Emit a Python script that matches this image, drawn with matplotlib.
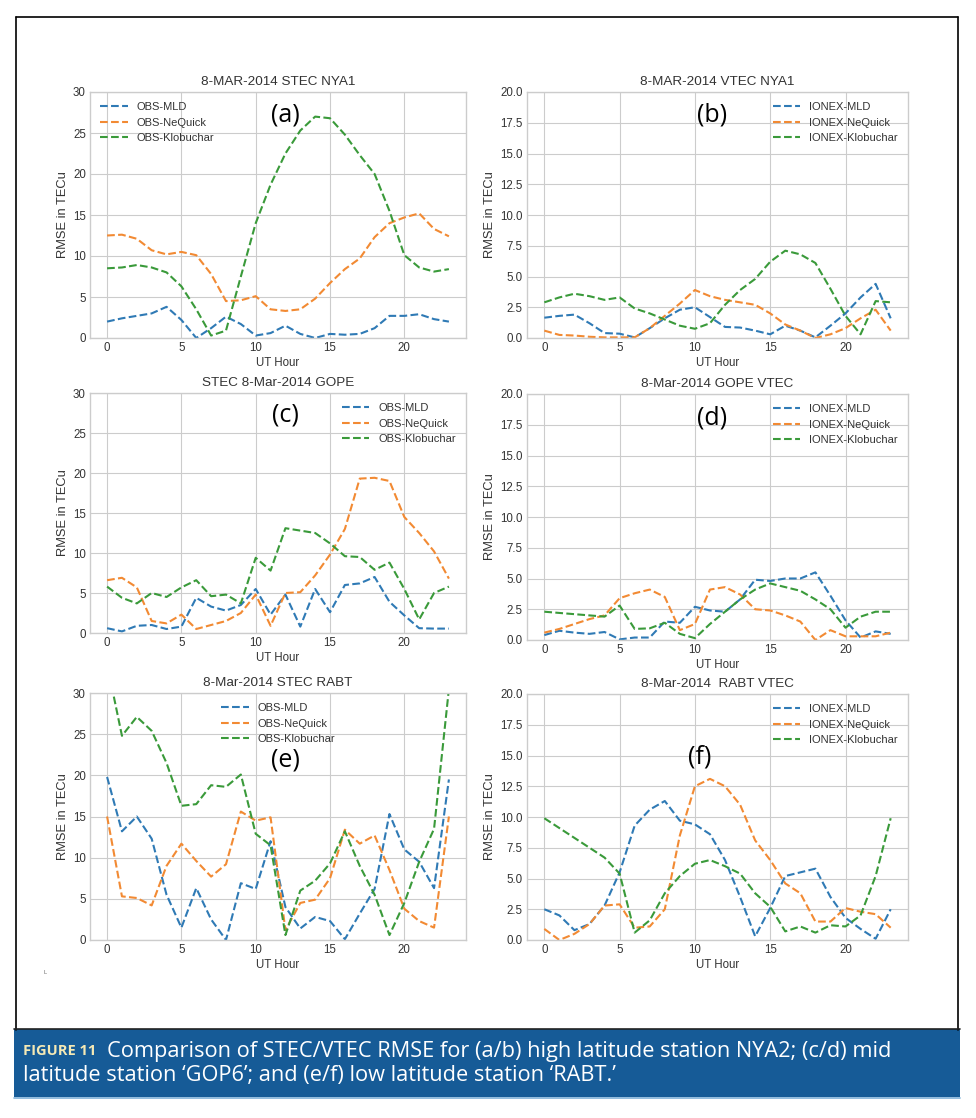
import matplotlib.pyplot as plt
from matplotlib.patches import Rectangle
from matplotlib.lines import Line2D

plt.style.use('seaborn-v0_8-whitegrid')

hours = list(range(24))

# (a) 8-MAR-2014 STEC NYA1
a_mld = [2.0, 2.4, 2.7, 3.0, 3.8, 2.2, 0.0, 1.2, 2.6, 1.7, 0.3, 0.6,
         1.5, 0.5, 0.0, 0.5, 0.4, 0.5, 1.2, 2.7, 2.7, 2.9, 2.3, 2.0]
a_neq = [12.5, 12.6, 12.1, 10.7, 10.2, 10.5, 10.1, 7.8, 4.5, 4.6, 5.1, 3.5,
         3.3, 3.5, 4.8, 6.7, 8.4, 9.7, 12.3, 14.0, 14.7, 15.2, 13.3, 12.4]
a_klo = [8.5, 8.6, 8.9, 8.6, 8.0, 6.3, 3.5, 0.3, 0.9, 7.5, 14.0, 18.7,
         22.5, 25.3, 27.0, 26.8, 24.8, 22.3, 20.0, 15.5, 10.1, 8.6, 8.1, 8.4]

# (b) 8-MAR-2014 VTEC NYA1
b_mld = [1.65, 1.8, 1.9, 1.2, 0.4, 0.35, 0.05, 0.8, 1.6, 2.3, 2.5, 1.7,
         0.9, 0.85, 0.6, 0.3, 1.0, 0.6, 0.05, 1.0, 2.0, 3.3, 4.4, 1.6]
b_neq = [0.6, 0.25, 0.2, 0.1, 0.05, 0.05, 0.05, 0.8, 1.8, 2.8, 3.9, 3.4,
         3.1, 2.9, 2.7, 2.0, 1.1, 0.6, 0.0, 0.3, 0.8, 1.6, 2.3, 0.6]
b_klo = [2.9, 3.3, 3.6, 3.4, 3.1, 3.3, 2.4, 2.0, 1.5, 1.0, 0.75, 1.2,
         2.7, 3.9, 4.8, 6.2, 7.1, 6.8, 6.1, 4.0, 1.8, 0.3, 3.0, 2.9]

# (c) STEC 8-Mar-2014 GOPE
c_mld = [0.6, 0.2, 0.9, 1.0, 0.5, 0.8, 4.4, 3.3, 2.8, 3.5, 5.5, 2.3,
         4.8, 0.8, 5.5, 2.6, 6.0, 6.2, 7.0, 3.9, 2.2, 0.6, 0.55, 0.55]
c_neq = [6.6, 6.9, 5.7, 1.5, 1.2, 2.3, 0.5, 1.0, 1.5, 2.5, 4.8, 0.9,
         5.0, 5.1, 7.2, 9.8, 13.0, 19.3, 19.4, 19.0, 14.5, 12.5, 10.2, 6.8]
c_klo = [5.8, 4.4, 3.7, 5.0, 4.5, 5.7, 6.6, 4.6, 4.8, 3.7, 9.4, 7.8,
         13.1, 12.8, 12.5, 11.2, 9.6, 9.5, 7.9, 8.8, 5.5, 1.7, 5.0, 5.8]

# (d) 8-Mar-2014 GOPE VTEC
d_mld = [0.4, 0.75, 0.6, 0.5, 0.65, 0.05, 0.2, 0.2, 1.5, 1.4, 2.7, 2.4,
         2.3, 3.3, 4.9, 4.8, 5.0, 5.0, 5.5, 3.6, 1.6, 0.2, 0.7, 0.5]
d_neq = [0.6, 0.9, 1.3, 1.7, 2.0, 3.4, 3.8, 4.1, 3.5, 0.8, 1.3, 4.1,
         4.3, 3.7, 2.5, 2.4, 2.0, 1.5, 0.0, 0.8, 0.3, 0.3, 0.3, 0.6]
d_klo = [2.3, 2.2, 2.1, 2.0, 1.9, 2.8, 0.9, 0.95, 1.4, 0.5, 0.15, 1.3,
         2.3, 3.3, 4.1, 4.6, 4.3, 4.0, 3.3, 2.5, 1.0, 1.9, 2.3, 2.3]

# (e) 8-Mar-2014 STEC RABT
e_mld = [19.8, 13.2, 15.0, 12.3, 5.5, 1.5, 6.3, 2.5, 0.0, 6.9, 6.2, 12.0,
         4.0, 1.4, 2.8, 2.3, 0.1, 3.2, 6.2, 15.3, 11.0, 9.5, 6.3, 19.5]
e_neq = [15.0, 5.3, 5.1, 4.2, 9.0, 11.7, 9.6, 7.7, 9.2, 15.6, 14.5, 14.9,
         1.2, 4.5, 4.9, 7.5, 13.4, 11.7, 12.7, 8.5, 3.8, 2.3, 1.5, 15.0]
e_klo = [33.5, 24.8, 27.1, 25.4, 21.5, 16.3, 16.5, 18.8, 18.6, 20.1, 12.9, 11.5,
         0.6, 6.0, 7.2, 9.3, 13.2, 9.0, 5.5, 0.6, 4.5, 9.5, 13.5, 30.5]

# (f) 8-Mar-2014 RABT VTEC
f_mld = [2.5, 2.0, 0.8, 1.3, 2.8, 5.5, 9.3, 10.6, 11.3, 9.7, 9.4, 8.6,
         6.5, 3.5, 0.3, 2.6, 5.2, 5.5, 5.8, 3.5, 1.8, 0.9, 0.1, 2.5]
f_neq = [0.9, 0.0, 0.5, 1.3, 2.8, 2.9, 1.0, 1.1, 2.5, 8.5, 12.5, 13.1,
         12.5, 11.0, 8.1, 6.5, 4.6, 3.8, 1.5, 1.5, 2.6, 2.3, 2.1, 1.0]
f_klo = [9.9, 9.1, 8.3, 7.5, 6.7, 5.4, 0.6, 1.6, 3.8, 5.2, 6.2, 6.5,
         6.0, 5.4, 3.8, 2.7, 0.7, 1.1, 0.6, 1.2, 1.1, 2.0, 5.2, 9.9]

obs_names = ['OBS-MLD', 'OBS-NeQuick', 'OBS-Klobuchar']
ionex_names = ['IONEX-MLD', 'IONEX-NeQuick', 'IONEX-Klobuchar']

panels = [
    ('8-MAR-2014 STEC NYA1', '(a)', (a_mld, a_neq, a_klo), obs_names, 30, 'upper left'),
    ('8-MAR-2014 VTEC NYA1', '(b)', (b_mld, b_neq, b_klo), ionex_names, 20, 'upper right'),
    ('STEC 8-Mar-2014 GOPE', '(c)', (c_mld, c_neq, c_klo), obs_names, 30, 'upper right'),
    ('8-Mar-2014 GOPE VTEC', '(d)', (d_mld, d_neq, d_klo), ionex_names, 20, 'upper right'),
    ('8-Mar-2014 STEC RABT', '(e)', (e_mld, e_neq, e_klo), obs_names, 30, 'upper center'),
    ('8-Mar-2014  RABT VTEC', '(f)', (f_mld, f_neq, f_klo), ionex_names, 20, 'upper right'),
]

W, H = 976, 1118
# axes boxes in pixels: left, right, top, bottom
boxes = [(90, 466, 92, 338), (527, 908, 92, 338),
         (90, 466, 393, 633), (527, 908, 394, 640),
         (90, 466, 693, 940), (527, 908, 694, 940)]
# panel letter positions in pixels
letter_pos = [(285, 115), (712, 115), (285, 415), (712, 418), (285, 760), (700, 757)]

colors = ['#2f7ab5', '#f28a33', '#3a9a3a']

fig = plt.figure(figsize=(W / 100, H / 100), dpi=100)

for (title, letter, series, names, ymax, loc), box, lp in zip(panels, boxes, letter_pos):
    l, r, t, b = box
    ax = fig.add_axes([l / W, 1 - b / H, (r - l) / W, (b - t) / H])
    for vals, name, c in zip(series, names, colors):
        ax.plot(hours, vals, '--', color=c, lw=1.5, label=name)
    ax.set_ylim(0, ymax)
    ax.set_xticks([0, 5, 10, 15, 20])
    if ymax == 20:
        ax.set_yticks([0, 2.5, 5, 7.5, 10, 12.5, 15, 17.5, 20])
        ax.yaxis.set_major_formatter(plt.FormatStrFormatter('%.1f'))
    ax.tick_params(labelsize=8.3, colors='#333333', pad=3)
    ax.set_title(title, fontsize=9.7, color='#333333', pad=5)
    ax.set_xlabel('UT Hour', fontsize=8.3, color='#333333', labelpad=2)
    ax.set_ylabel('RMSE in TECu', fontsize=9.3, color='#333333', labelpad=3)
    for s in ax.spines.values():
        s.set_visible(True)
        s.set_color('#cccccc')
    ax.legend(loc=loc, fontsize=8, frameon=False, handlelength=2.5,
              labelcolor='#333333')
    fig.text(lp[0] / W, 1 - lp[1] / H, letter, fontsize=18, family='Open Sans',
             ha='center', va='center', color='black')

fig.text(45 / W, 1 - 972 / H, 'L', fontsize=4, color='#666666', ha='center', va='center')

# outer frame
fx0, fx1, fy0, fy1 = 16, 958, 17, 1030
frame = [Line2D([fx0 / W, fx0 / W], [1 - fy0 / H, 1 - fy1 / H]),
         Line2D([fx1 / W, fx1 / W], [1 - fy0 / H, 1 - fy1 / H]),
         Line2D([fx0 / W, fx1 / W], [1 - fy0 / H, 1 - fy0 / H])]
for ln in frame:
    ln.set_color('black')
    ln.set_linewidth(1.2)
    fig.add_artist(ln)

# caption band
band = Rectangle((14 / W, 1 - 1097 / H), (960 - 14) / W, (1097 - 1029) / H,
                 transform=fig.transFigure, facecolor='#165b97', edgecolor='none')
fig.add_artist(band)
edge = Line2D([14 / W, 960 / W], [1 - 1029 / H, 1 - 1029 / H], color='#222222', lw=1.2)
fig.add_artist(edge)
edge2 = Line2D([14 / W, 960 / W], [1 - 1098 / H, 1 - 1098 / H], color='#7fb0d8', lw=1.2)
fig.add_artist(edge2)

fig.text(23 / W, 1 - 1051 / H, 'FIGURE 11', fontsize=10.5, fontweight='bold',
         family='Open Sans', color='#f5e9b5', va='center')
fig.text(107 / W, 1 - 1051 / H,
         'Comparison of STEC/VTEC RMSE for (a/b) high latitude station NYA2; (c/d) mid',
         fontsize=15.7, family='Open Sans', color='white', va='center')
fig.text(23 / W, 1 - 1076 / H,
         "latitude station \u2018GOP6\u2019; and (e/f) low latitude station \u2018RABT.\u2019",
         fontsize=15.7, family='Open Sans', color='white', va='center')

fig.savefig('out.png', dpi=100)
